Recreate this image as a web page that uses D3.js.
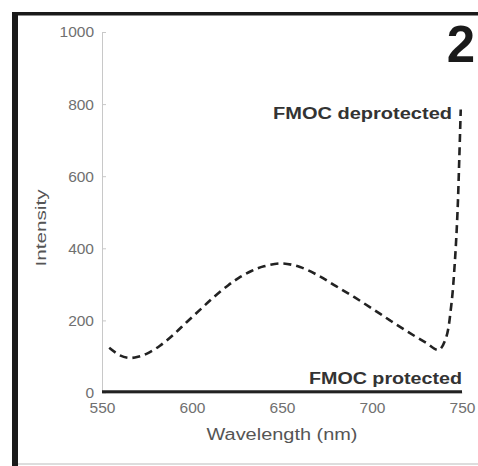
<!DOCTYPE html>
<html>
<head>
<meta charset="utf-8">
<script src="https://cdn.jsdelivr.net/npm/d3@7"></script>
<style>
  body { margin: 0; background: #fff; }
  svg { display: block; }
</style>
</head>
<body>
<svg id="chart"></svg>
<script>
// Data
const xTicks = [550, 600, 650, 700, 750];
const yTicks = [0, 200, 400, 600, 800, 1000];

// FMOC deprotected (dashed)
const deprotWl = [554, 560, 565, 570, 575, 582, 590, 597, 605, 612, 620, 626, 633, 640, 650, 660, 670, 680, 690, 700, 710, 720, 730, 737, 741, 744, 746, 747.5, 748.5, 749.3];
const deprotI  = [124, 103, 96, 99, 108, 129, 162, 195, 232, 264, 297, 318, 337, 350, 358, 348, 325, 295, 265, 233, 200, 168, 138, 118, 150, 240, 360, 500, 650, 785];

// FMOC protected (solid, flat at zero)
const protWl = [550, 600, 650, 700, 750];
const protI  = [2, 2, 2, 2, 2];

const W = 478, H = 466;
const margin = { top: 32, left: 102 };
const width = 462 - margin.left;
const height = 392.5 - margin.top;

const svg = d3.select("#chart").attr("width", W).attr("height", H);

// frame
svg.append("rect").attr("x", 12).attr("y", 12).attr("width", W - 12).attr("height", 3.5).attr("fill", "#1a1a1a");
svg.append("rect").attr("x", 12).attr("y", 12).attr("width", 6).attr("height", H - 12).attr("fill", "#1a1a1a");
svg.append("line").attr("x1", 18).attr("x2", W).attr("y1", 464).attr("y2", 464).attr("stroke", "#bbb");

const g = svg.append("g").attr("transform", `translate(${margin.left},${margin.top})`);

const x = d3.scaleLinear().domain([550, 750]).range([0, width]);
const y = d3.scaleLinear().domain([0, 1000]).range([height, 0]);

const tickFont = "15.5px 'Liberation Sans', Arial, sans-serif";

// y axis
const yAxis = g.append("g").call(d3.axisRight(y).tickValues(yTicks).tickSize(4).tickFormat(d3.format("d")));
yAxis.select(".domain").attr("stroke", "#c8c8c8");
yAxis.selectAll(".tick line").attr("stroke", "#c8c8c8");
yAxis.selectAll(".tick text").attr("x", -8).attr("text-anchor", "end")
  .attr("fill", "#707070").style("font", tickFont);

// x axis
const xAxis = g.append("g").attr("transform", `translate(0,${height})`)
  .call(d3.axisBottom(x).tickValues(xTicks).tickSize(0).tickPadding(9));
xAxis.select(".domain").attr("stroke", "#c8c8c8");
xAxis.selectAll(".tick text").attr("fill", "#707070").style("font", tickFont);

// axis titles
svg.append("text").attr("x", 282).attr("y", 440).attr("text-anchor", "middle")
  .attr("fill", "#555").style("font", "16px 'Liberation Sans', Arial, sans-serif")
  .attr("textLength", 151).attr("lengthAdjust", "spacingAndGlyphs")
  .text("Wavelength (nm)");
svg.append("text").attr("transform", "translate(46,228) rotate(-90)").attr("text-anchor", "middle")
  .attr("fill", "#555").style("font", "15.5px 'Liberation Sans', Arial, sans-serif")
  .attr("textLength", 77).attr("lengthAdjust", "spacingAndGlyphs")
  .text("Intensity");

const line = d3.line().x(d => x(d[0])).y(d => y(d[1])).curve(d3.curveCatmullRom);

// protected line
g.append("path").datum(d3.zip(protWl, protI))
  .attr("d", line).attr("fill", "none").attr("stroke", "#222").attr("stroke-width", 3);

// deprotected dashed
g.append("path").datum(d3.zip(deprotWl, deprotI))
  .attr("d", line).attr("fill", "none").attr("stroke", "#222")
  .attr("stroke-width", 2.6).attr("stroke-dasharray", "8,5");

// labels
svg.append("text").attr("x", 452).attr("y", 119).attr("text-anchor", "end")
  .attr("fill", "#333").style("font", "bold 16px 'Liberation Sans', Arial, sans-serif")
  .attr("textLength", 179).attr("lengthAdjust", "spacingAndGlyphs")
  .text("FMOC deprotected");
svg.append("text").attr("x", 462).attr("y", 384).attr("text-anchor", "end")
  .attr("fill", "#333").style("font", "bold 16px 'Liberation Sans', Arial, sans-serif")
  .attr("textLength", 153).attr("lengthAdjust", "spacingAndGlyphs")
  .text("FMOC protected");
svg.append("text").attr("x", 475).attr("y", 62).attr("text-anchor", "end")
  .attr("fill", "#1a1a1a").style("font", "900 51px 'Liberation Sans', Arial, sans-serif")
  .text("2");
</script>
</body>
</html>
